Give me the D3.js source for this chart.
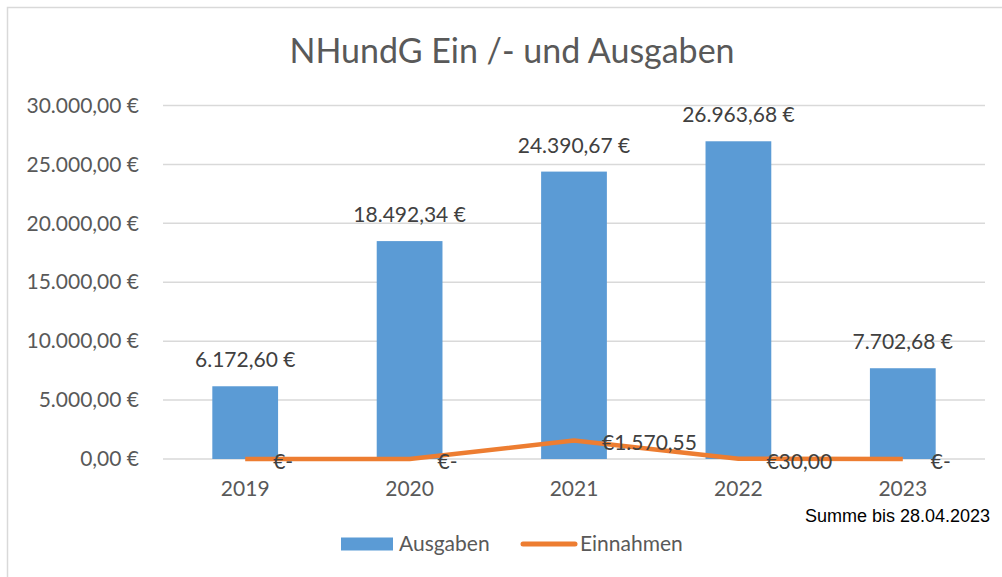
<!DOCTYPE html>
<html><head><meta charset="utf-8">
<script src="https://cdn.jsdelivr.net/npm/d3@7"></script>
<style>html,body{margin:0;padding:0;background:#fff;overflow:hidden}</style>
</head><body>
<svg id="c" width="1002" height="577"></svg>
<script>
const years = ["2019","2020","2021","2022","2023"];
const ausgaben = [6172.60, 18492.34, 24390.67, 26963.68, 7702.68];
const einnahmen = [0, 0, 1570.55, 30.00, 0];
const yTicks = [0, 5000, 10000, 15000, 20000, 25000, 30000];
const title = "NHundG Ein /- und Ausgaben";
const seriesNames = ["Ausgaben", "Einnahmen"];
const note = "Summe bis 28.04.2023";

const FONT = "Lato, 'Open Sans', sans-serif";
const FS = 21;
const svg = d3.select("#c");

// chart border
svg.append("path").attr("d","M7.5,577 V7.5 H1002").attr("fill","none")
  .attr("stroke","#d9d9d9").attr("stroke-width",1.5);

const x = d3.scaleBand().domain(years).range([163,985]).paddingInner(0.6).paddingOuter(0.3);
const y = d3.scaleLinear().domain([0,30000]).range([459,105.5]);

const deNum = d3.formatLocale({decimal:",", thousands:".", grouping:[3], currency:["","\u00a0€"]});
const fmt2 = deNum.format(",.2f");
const eur = v => fmt2(v) + " €";
const eurPre = v => v === 0 ? "€-" : "€" + fmt2(v);

// gridlines
svg.append("g").selectAll("line").data(yTicks).join("line")
  .attr("x1",163).attr("x2",985).attr("y1",d=>y(d)).attr("y2",d=>y(d))
  .attr("stroke","#d9d9d9").attr("stroke-width",1.5);

// y axis labels
const yAxis = d3.axisLeft(y).tickValues(yTicks).tickFormat(eur).tickSize(0).tickPadding(24);
const ya = svg.append("g").attr("transform","translate(163,0)").call(yAxis);
ya.select(".domain").remove();
ya.selectAll("text").attr("font-family",FONT).attr("font-size",FS).attr("fill","#595959");

// x axis labels
const xAxis = d3.axisBottom(x).tickSize(0).tickPadding(22);
const xa = svg.append("g").attr("transform","translate(0,459)").call(xAxis);
xa.select(".domain").remove();
xa.selectAll("text").attr("font-family",FONT).attr("font-size",FS).attr("fill","#595959");

// bars
svg.append("g").selectAll("rect").data(ausgaben).join("rect")
  .attr("x",(d,i)=>x(years[i])).attr("width",x.bandwidth())
  .attr("y",d=>y(d)).attr("height",d=>y(0)-y(d)).attr("fill","#5b9bd5");

// bar labels
svg.append("g").selectAll("text").data(ausgaben).join("text")
  .attr("x",(d,i)=>x(years[i])+x.bandwidth()/2).attr("y",d=>y(d)-19)
  .attr("text-anchor","middle").attr("font-family",FONT).attr("font-size",FS)
  .attr("fill","#404040").text(eur);

// line
const cx = i => x(years[i]) + x.bandwidth()/2;
const line = d3.line().x((d,i)=>cx(i)).y(d=>y(d));
svg.append("path").datum(einnahmen).attr("d",line).attr("fill","none")
  .attr("stroke","#ed7d31").attr("stroke-width",4.5).attr("stroke-linejoin","round");

// line labels
svg.append("g").selectAll("text").data(einnahmen).join("text")
  .attr("x",(d,i)=>cx(i)+28).attr("y",d=>y(d)+1.5)
  .attr("dominant-baseline","central").attr("font-family",FONT).attr("font-size",FS)
  .attr("fill","#404040").text(eurPre);

// title
svg.append("text").attr("x",512).attr("y",63).attr("text-anchor","middle")
  .attr("font-family",FONT).attr("font-size",34).attr("fill","#595959").text(title);

// note
svg.append("text").attr("x",990).attr("y",522).attr("text-anchor","end")
  .attr("font-family","'Liberation Sans', Arial, sans-serif").attr("font-size",18)
  .attr("fill","#000").text(note);

// legend
const lg = svg.append("g");
lg.append("rect").attr("x",341).attr("y",537.5).attr("width",52).attr("height",13).attr("fill","#5b9bd5");
lg.append("text").attr("x",399).attr("y",551).attr("font-family",FONT).attr("font-size",FS)
  .attr("fill","#595959").text(seriesNames[0]);
lg.append("line").attr("x1",523).attr("x2",575).attr("y1",544).attr("y2",544)
  .attr("stroke","#ed7d31").attr("stroke-width",5).attr("stroke-linecap","round");
lg.append("text").attr("x",580).attr("y",551).attr("font-family",FONT).attr("font-size",FS)
  .attr("fill","#595959").text(seriesNames[1]);
</script>
</body></html>
